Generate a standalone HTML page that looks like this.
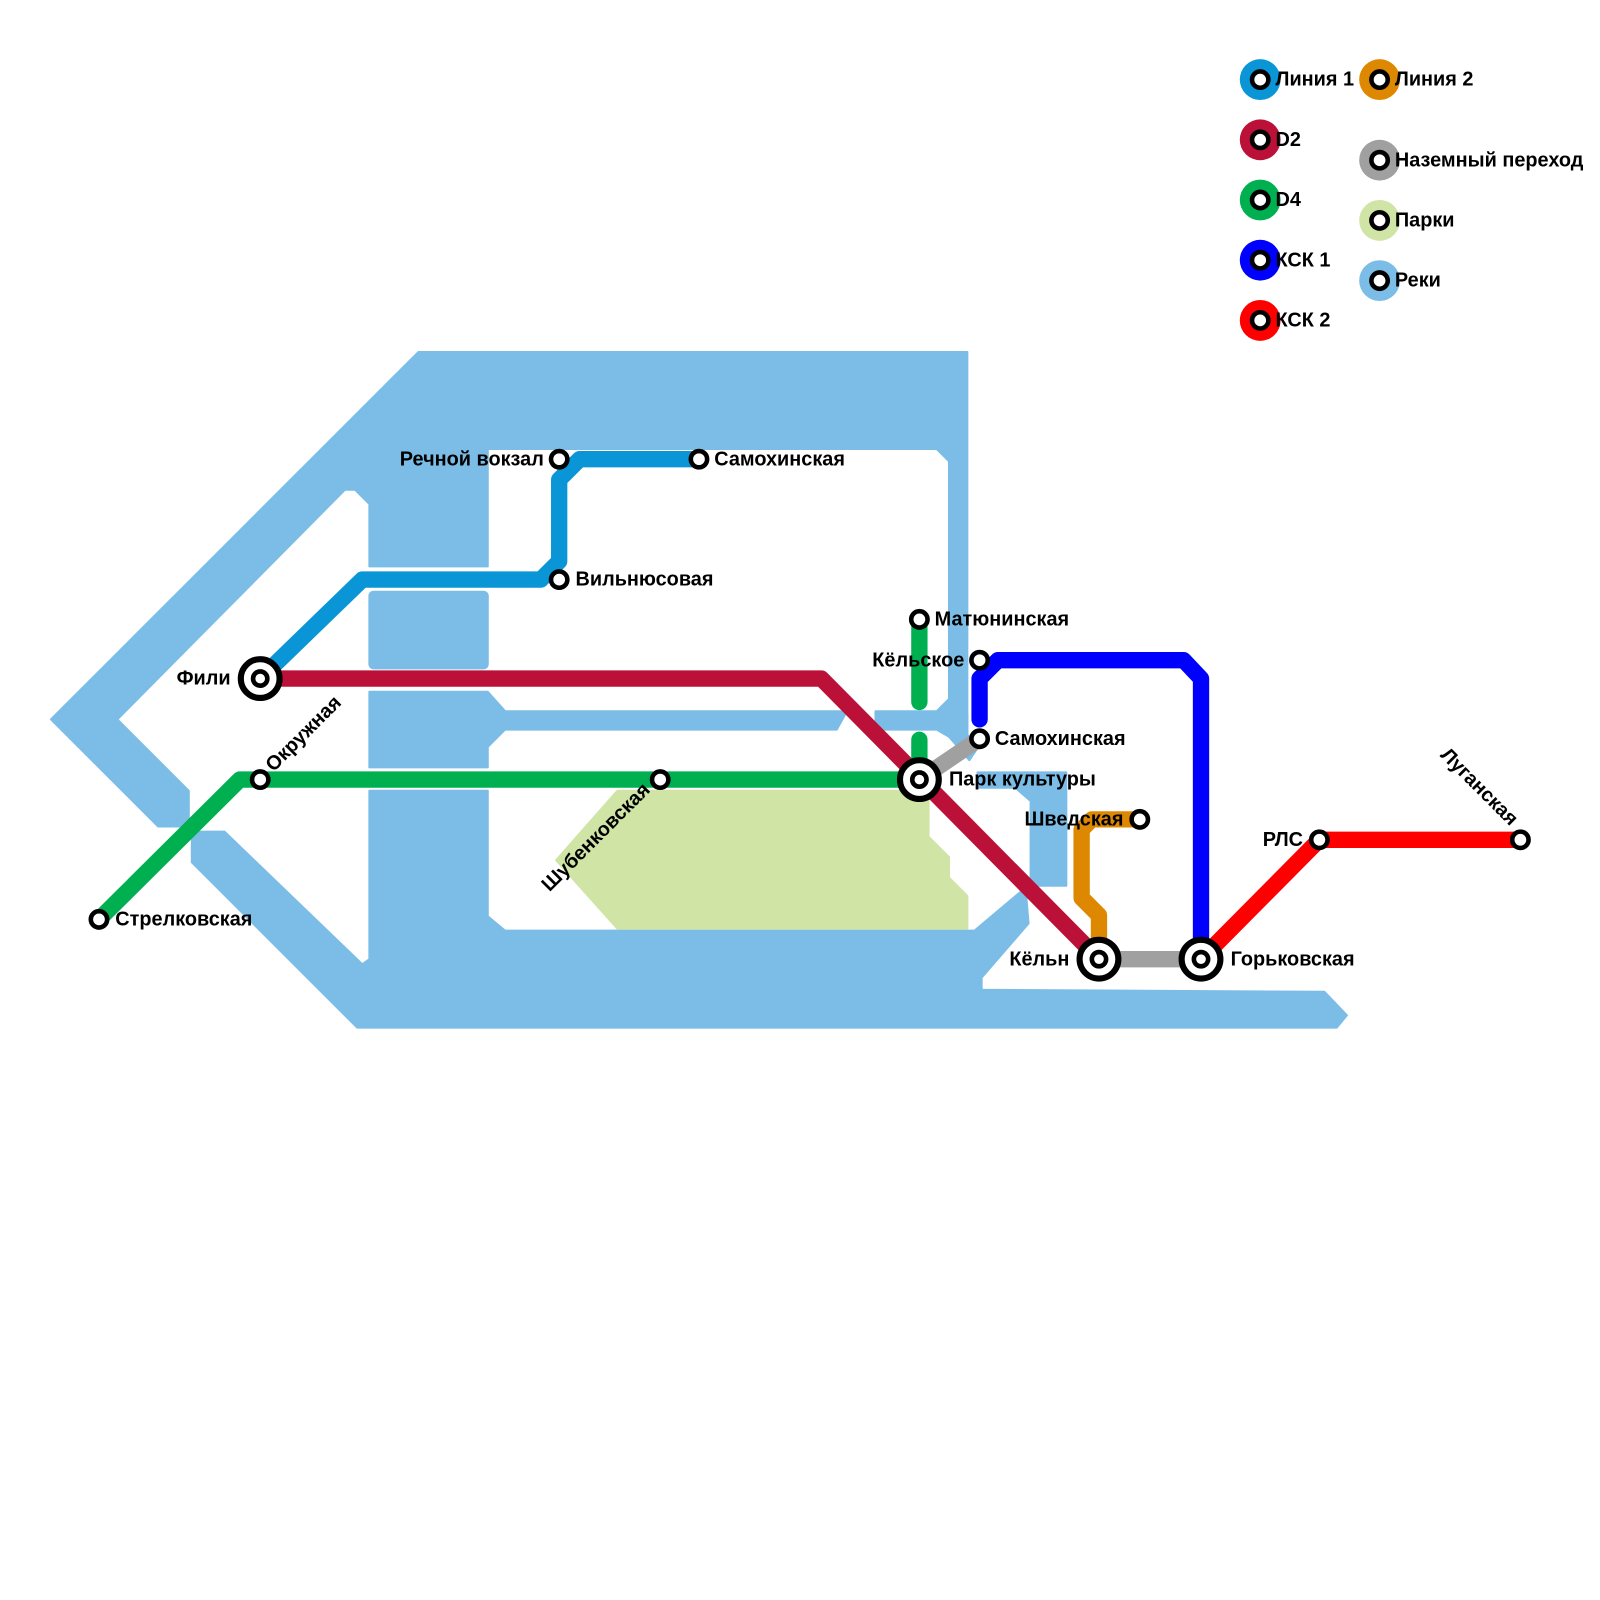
<!DOCTYPE html>
<html><head><meta charset="utf-8"><style>
html,body{margin:0;padding:0;background:#fff;width:1600px;height:1600px;overflow:hidden}
text{font-family:"Liberation Sans",sans-serif;font-weight:bold;font-size:19.5px;fill:#000}
</style></head><body>
<svg width="1600" height="1600" viewBox="0 0 1600 1600" xmlns="http://www.w3.org/2000/svg">
<g transform="scale(1.0204)">
<g fill="#7bbde6" stroke="#7bbde6" stroke-linejoin="round" stroke-width="2">
<polygon points="50,705 410,345 948,345 948,720 938,720 930,712 930,452 918,440 478,440 478,555 362,555 362,494 348,480 338,480 115,705 185,775 185,810 155,810"/>
<rect x="362" y="580" width="116" height="75" rx="4"/>
<polygon points="362,678 478,678 495,697 830,697 820,715 495,715 478,732 478,752 362,752"/>
<polygon points="858,697 918,697 930,685 948,700 948,720 958,733 950,745 930,722 918,715 858,715"/>
<polygon points="188,815 220,815 355,945 362,940 362,775 478,775 478,898 495,912 955,912 1005,870 1008,905 962,958 962,970 1298,972 1320,995 1310,1007 350,1007 188,845"/>
<polygon points="958,757 1045,757 1045,868 1010,868 1010,785 995,772 958,772"/>
</g>
<polygon fill="#d0e4a6" stroke="#d0e4a6" stroke-width="2" stroke-linejoin="round" points="545,843 605,775 910,775 910,820 930,840 930,860 948,878 948,910 605,910"/>
<g fill="none" stroke-linejoin="round" stroke-linecap="round" stroke-width="16">
<polyline stroke="#0a96d6" points="255,665 355,568 530,568 548,550 548,470 568,450 685,450"/>
<polyline stroke="#bb1138" points="255,665 805,665 1077,940"/>
<polyline stroke="#00b050" points="97,901 235,764 901,764"/>
<line stroke="#00b050" x1="901" y1="607" x2="901" y2="688"/>
<line stroke="#00b050" x1="901" y1="725" x2="901" y2="764"/>
<polyline stroke="#0000ff" points="960,705 960,665 978,647 1160,647 1177,665 1177,940"/>
<line stroke="#a0a0a0" x1="901" y1="764" x2="960" y2="724"/>
<line stroke="#a0a0a0" x1="1077" y1="940" x2="1177" y2="940"/>
<polyline stroke="#dd8800" points="1117,803 1070,803 1060,813 1060,880 1077,897 1077,940"/>
<polyline stroke="#ff0000" points="1177,940 1293,823 1490,823"/>
</g>
<g fill="#fff" stroke="#000" stroke-width="4.5">
<circle cx="548" cy="450" r="8"/><circle cx="685" cy="450" r="8"/><circle cx="548" cy="568" r="8"/>
<circle cx="255" cy="764" r="8"/><circle cx="97" cy="901" r="8"/><circle cx="647" cy="764" r="8"/>
<circle cx="901" cy="607" r="8"/><circle cx="960" cy="647" r="8"/><circle cx="960" cy="724" r="8"/>
<circle cx="1117" cy="803" r="8"/><circle cx="1293" cy="823" r="8"/><circle cx="1490" cy="823" r="8"/>
</g>
<g fill="#fff" stroke="#000">
<circle cx="255" cy="665" r="19" stroke-width="6"/><circle cx="255" cy="665" r="7" stroke-width="4.5"/>
<circle cx="901" cy="764" r="19" stroke-width="6"/><circle cx="901" cy="764" r="7" stroke-width="4.5"/>
<circle cx="1077" cy="940" r="19" stroke-width="6"/><circle cx="1077" cy="940" r="7" stroke-width="4.5"/>
<circle cx="1177" cy="940" r="19" stroke-width="6"/><circle cx="1177" cy="940" r="7" stroke-width="4.5"/>
</g>
<text x="533" y="456" text-anchor="end">Речной вокзал</text>
<text x="700" y="456">Самохинская</text>
<text x="564" y="574">Вильнюсовая</text>
<text x="226" y="671" text-anchor="end">Фили</text>
<text x="113" y="907">Стрелковская</text>
<text transform="translate(268,757) rotate(-45)">Окружная</text>
<text transform="translate(638,775) rotate(-45)" text-anchor="end">Шубенковская</text>
<text x="916" y="613">Матюнинская</text>
<text x="945" y="653" text-anchor="end">Кёльское</text>
<text x="975" y="730">Самохинская</text>
<text x="930" y="770">Парк культуры</text>
<text x="1101" y="809" text-anchor="end">Шведская</text>
<text x="1277" y="829" text-anchor="end">РЛС</text>
<text transform="translate(1480,810) rotate(45)" text-anchor="end">Луганская</text>
<text x="1048" y="946" text-anchor="end">Кёльн</text>
<text x="1206" y="946">Горьковская</text>
<g stroke-width="0">
<circle cx="1235" cy="78" r="20" fill="#0a96d6"/>
<circle cx="1235" cy="137" r="20" fill="#bb1138"/>
<circle cx="1235" cy="196" r="20" fill="#00b050"/>
<circle cx="1235" cy="255" r="20" fill="#0000ff"/>
<circle cx="1235" cy="314" r="20" fill="#ff0000"/>
<circle cx="1352" cy="78" r="20" fill="#dd8800"/>
<circle cx="1352" cy="157" r="20" fill="#a0a0a0"/>
<circle cx="1352" cy="216" r="20" fill="#d0e4a6"/>
<circle cx="1352" cy="275" r="20" fill="#7bbde6"/>
</g>
<g fill="#fff" stroke="#000" stroke-width="4.5">
<circle cx="1235" cy="78" r="8"/><circle cx="1235" cy="137" r="8"/><circle cx="1235" cy="196" r="8"/>
<circle cx="1235" cy="255" r="8"/><circle cx="1235" cy="314" r="8"/><circle cx="1352" cy="78" r="8"/>
<circle cx="1352" cy="157" r="8"/><circle cx="1352" cy="216" r="8"/><circle cx="1352" cy="275" r="8"/>
</g>
<text x="1250" y="84">Линия 1</text>
<text x="1250" y="143">D2</text>
<text x="1250" y="202">D4</text>
<text x="1250" y="261">КСК 1</text>
<text x="1250" y="320">КСК 2</text>
<text x="1367" y="84">Линия 2</text>
<text x="1367" y="163">Наземный переход</text>
<text x="1367" y="222">Парки</text>
<text x="1367" y="281">Реки</text>
</g>
</svg>
</body></html>
